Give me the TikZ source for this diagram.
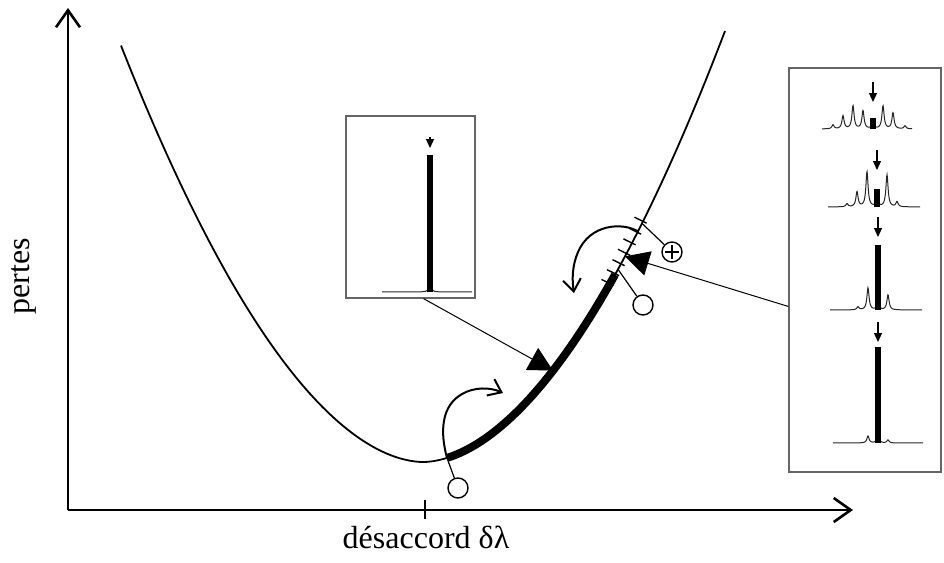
\documentclass[tikz,border=0pt]{standalone}
\usepackage{fontspec}
\setmainfont{Liberation Serif}
\usetikzlibrary{arrows.meta,calc}
\begin{document}
\begin{tikzpicture}[x=0.5pt,y=-0.5pt,
  declare function={loss(\xx)=462-ifthenelse(\xx<0,54.5,56.4)*(abs(\xx)/100+0.0001)^1.84;
    lor(\xx,\cc,\hh)=\hh/(1+((\xx-\cc)/1.3)^2);},
  axis/.style={line width=1.3pt,-{Straight Barb[length=8.5pt,width=12pt]}},
  lossline/.style={line width=0.9pt},
  sweep/.style={line width=4pt},
  hatch/.style={line width=0.7pt},
  inset/.style={draw=black!60,line width=0.6pt,inner sep=0pt},
  pointer/.style={line width=0.5pt,-{Triangle[length=12pt,width=12.5pt]}},
  ring/.style={circle,draw,line width=0.7pt,minimum size=10pt,inner sep=0pt},
  plusring/.style={ring,path picture={\draw[line width=0.6pt]
      ([yshift=-1.5pt]path picture bounding box.north) -- ([yshift=1.5pt]path picture bounding box.south)
      ([xshift=1.5pt]path picture bounding box.west) -- ([xshift=-1.5pt]path picture bounding box.east);}},
  link/.style={line width=0.6pt},
  twist/.style={line width=1pt,-{Straight Barb[length=6pt,width=9pt]}},
  spec/.style={line width=0.5pt,black!85},
  core/.style={line width=2.6pt},
  probe/.style={line width=0.6pt,-{Triangle[length=4.5pt,width=4pt]}},
  axislabel/.style={font=\fontsize{16}{19}\selectfont}]
\useasboundingbox (0,0) rectangle (944,563);

\coordinate (o) at (68,510);
\coordinate (ytip) at (68,8);
\coordinate (xtip) at (853,510);
\draw[axis] (o) -- (ytip);
\draw[axis] (o) -- (xtip);
\draw[line width=1.3pt] (425,500) -- (425,519);
\node[axislabel,anchor=base] (xlabel) at (426,548) {désaccord δλ};
\node[axislabel,rotate=90] (ylabel) at (24,276) {pertes};

\draw[lossline] plot[domain=-302:302,samples=151] ({423+\x},{loss(\x)});
\draw[sweep] plot[domain=24:192,samples=60] ({423+\x},{loss(\x)});
\foreach \h in {187,192.5,...,220}
  \draw[hatch] ({423+\h-8.5},{loss(\h)-4.2}) -- ({423+\h+3.6},{loss(\h)+1.8});

\coordinate (ca) at ({423+24},{loss(24)});
\coordinate (cb) at ({423+130},{loss(130)});
\coordinate (cc) at ({423+195},{loss(195)});
\coordinate (cd) at ({423+202},{loss(202)});
\coordinate (ce) at ({423+215},{loss(215)});
\coordinate (cf) at ({423+219},{loss(219)});
\coordinate (ra) at (503,393);
\coordinate (rb) at (574,293);

\node[ring] (start) at (458,488) {};
\node[ring] (lock) at (643,305) {};
\node[plusring] (plus) at (672,252) {};
\draw[link] (start) -- (ca);
\draw[link] (lock) -- (cc);
\draw[link] (plus) -- (cf);
\draw[twist] (ca) .. controls (440,432) and (441,406) .. (462,394) .. controls (474,387) and (490,387) .. (ra);
\draw[twist] (ce) .. controls (622,222) and (590,224) .. (578,252) .. controls (572,266) and (572,280) .. (rb);

\node[inset,minimum width=64.5pt,minimum height=91pt] (inset) at (410.5,207) {};
\node[inset,minimum width=76pt,minimum height=202pt] (series) at (865,270) {};
\draw[pointer] ($(inset.south west)!0.6!(inset.south east)$) -- (cb);
\draw[pointer] ($(series.north west)!0.59!(series.south west)$) -- (cd);

\draw[spec] plot[domain=382:472,samples=241] (\x,{292-lor(\x,430,10)});
\draw[core] (430,292) -- (430,155);
\draw[probe] (430,137) -- (430,148);

\draw[spec] plot[domain=822:912,samples=241] (\x,{129-lor(\x,833,4)-lor(\x,843,13)-lor(\x,853,23)-lor(\x,863,18)-lor(\x,873,6)-lor(\x,883,23)-lor(\x,893,16)-lor(\x,905,3)});
\draw[core] (873,129) -- (873,118);
\draw[probe] (873,82) -- (873,102);

\draw[spec] plot[domain=828:920,samples=241] (\x,{207-lor(\x,847,3)-lor(\x,857,15)-lor(\x,867,35)-lor(\x,877,8)-lor(\x,887,32)-lor(\x,897,5)});
\draw[core] (877,207) -- (877,189);
\draw[probe] (877,150) -- (877,170);

\draw[spec] plot[domain=830:922,samples=241] (\x,{310-lor(\x,858,3)-lor(\x,868,22)-lor(\x,878,8)-lor(\x,888,15)});
\draw[core] (878,310) -- (878,245);
\draw[probe] (878,217) -- (878,237);

\draw[spec] plot[domain=833:923,samples=241] (\x,{443-lor(\x,868,7)-lor(\x,878,8)-lor(\x,888,3)});
\draw[core] (878,443) -- (878,347);
\draw[probe] (878,322) -- (878,342);
\end{tikzpicture}
\end{document}
